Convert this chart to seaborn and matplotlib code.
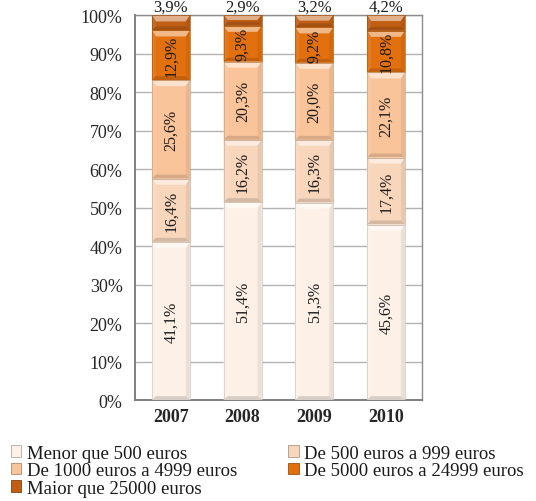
import matplotlib
matplotlib.use("Agg")
import numpy as np
import pandas as pd
import seaborn as sns
import matplotlib.pyplot as plt
from matplotlib.patches import Polygon, Rectangle
from matplotlib.colors import to_rgb
from matplotlib.font_manager import FontProperties

# ---- data -------------------------------------------------------------
years = ["2007", "2008", "2009", "2010"]
menor_500 = [41.1, 51.4, 51.3, 45.6]
de_500_999 = [16.4, 16.2, 16.3, 17.4]
de_1000_4999 = [25.6, 20.3, 20.0, 22.1]
de_5000_24999 = [12.9, 9.3, 9.2, 10.8]
maior_25000 = [3.9, 2.9, 3.2, 4.2]

series_names = [
    "Menor que 500 euros",
    "De 500 euros a 999 euros",
    "De 1000 euros a 4999 euros",
    "De 5000 euros a 24999 euros",
    "Maior que 25000 euros",
]
series_values = [menor_500, de_500_999, de_1000_4999, de_5000_24999, maior_25000]
series_colors = ["#FDF1E7", "#F8D6BC", "#FAC49A", "#E3700E", "#C05E14"]
y_ticks = [0, 10, 20, 30, 40, 50, 60, 70, 80, 90, 100]

# ---- style ------------------------------------------------------------
sns.set_theme(style="white")
serif = ["Liberation Serif", "DejaVu Serif"]
plt.rcParams["font.family"] = serif
plt.rcParams["text.color"] = "#1A1A1A"

fig = plt.figure(figsize=(5.36, 5.02), dpi=100)
ax = fig.add_axes([0.252, 0.201, 0.535, 0.767])

tops = np.cumsum(np.array(series_values), axis=0)
bottoms = tops - np.array(series_values)

# draw cumulative bars from the tallest layer down so each layer overlays
segments = {}
for i in range(len(series_names) - 1, -1, -1):
    df = pd.DataFrame({"year": years, "top": tops[i]})
    n_before = len(ax.patches)
    sns.barplot(data=df, x="year", y="top", color=series_colors[i],
                saturation=1, width=0.53, ax=ax, linewidth=0, zorder=2)
    segments[i] = ax.patches[n_before:]

ax.set_xlim(-0.5, 3.5)
ax.set_ylim(0, 100)


def mix(c, other, t):
    c = np.array(to_rgb(c))
    o = np.array(to_rgb(other))
    return tuple(c * (1 - t) + o * t)


# bevel edges on each stacked segment
fig.canvas.draw()
px_x = ax.transData.transform((1, 0))[0] - ax.transData.transform((0, 0))[0]
px_y = ax.transData.transform((0, 1))[1] - ax.transData.transform((0, 0))[1]
bevel_top_px = 6.0
bevel_side_px = 4.0
for i, patches in segments.items():
    col = series_colors[i]
    for j, p in enumerate(patches):
        x0 = p.get_x()
        x1 = x0 + p.get_width()
        y0 = bottoms[i][j]
        y1 = min(tops[i][j], 100)
        h_px = (y1 - y0) * px_y
        bt = min(bevel_top_px, h_px / 2.2)
        bs = min(bevel_side_px, h_px / 2.2)
        dx = bs / px_x
        dyt = bt / px_y
        dyb = bs / px_y
        top = [(x0, y1), (x1, y1), (x1 - dx, y1 - dyt), (x0 + dx, y1 - dyt)]
        bot = [(x0, y0), (x1, y0), (x1 - dx, y0 + dyb), (x0 + dx, y0 + dyb)]
        left = [(x0, y0), (x0 + dx, y0 + dyb), (x0 + dx, y1 - dyt), (x0, y1)]
        right = [(x1, y0), (x1 - dx, y0 + dyb), (x1 - dx, y1 - dyt), (x1, y1)]
        for poly, fc in ((top, mix(col, "white", 0.5)),
                         (left, mix(col, "white", 0.08)),
                         (right, mix(col, "black", 0.07)),
                         (bot, mix(col, "black", 0.14))):
            ax.add_patch(Polygon(poly, closed=True, facecolor=fc,
                                 edgecolor="none", zorder=3))
        ax.add_patch(Rectangle((x0, y0), x1 - x0, y1 - y0, facecolor="none",
                               edgecolor=mix(col, "black", 0.18), lw=0.5,
                               zorder=4))


def pct(v):
    return f"{v:.1f}".replace(".", ",") + "%"


# value labels
for i, vals in enumerate(series_values):
    for j, v in enumerate(vals):
        if i == len(series_values) - 1:
            ax.annotate(pct(v), (j, 100), xytext=(0, 0.3),
                        textcoords="offset points", ha="center", va="bottom",
                        fontsize=12, annotation_clip=False, zorder=6)
        else:
            ax.text(j, bottoms[i][j] + v / 2, pct(v), rotation=90,
                    ha="center", va="center", fontsize=11.5, zorder=6)

# axes
ax.set_yticks(y_ticks)
ax.set_yticklabels([f"{t}%" for t in y_ticks], fontsize=13)
ax.set_xticks([-0.5, 0.5, 1.5, 2.5, 3.5])
ax.set_xticklabels([])
ax.set_xticks(range(len(years)), minor=True)
ax.set_xticklabels(years, minor=True, fontsize=13, fontweight="bold")
ax.tick_params(axis="x", which="major", direction="out", length=5,
               color="#8C8C8C", width=1)
ax.tick_params(axis="x", which="minor", length=0, pad=6)
ax.tick_params(axis="y", direction="out", length=5, color="#8C8C8C",
               width=1, pad=4)
ax.set_xlabel("")
ax.set_ylabel("")
ax.yaxis.grid(True, color="#B3B3B3", lw=1)
ax.set_axisbelow(True)
for side in ("left", "bottom"):
    ax.spines[side].set_color("#7F7F7F")
    ax.spines[side].set_linewidth(1.4)
for side in ("top", "right"):
    ax.spines[side].set_color("#8C8C8C")
    ax.spines[side].set_linewidth(1.0)

# legend (row-wise reading order in two columns)
handles = [Rectangle((0, 0), 1, 1, facecolor=c, edgecolor=mix(c, "black", 0.3),
                     lw=0.6) for c in series_colors]
order = [0, 2, 4, 1, 3]
fig.legend([handles[k] for k in order], [series_names[k] for k in order],
           loc="upper left", bbox_to_anchor=(0.02, 0.112), ncol=2,
           frameon=False, prop=FontProperties(family=serif, size=13.5),
           handlelength=0.55, handleheight=0.55,
           handletextpad=0.3, labelspacing=0.02, columnspacing=2.75,
           borderaxespad=0, borderpad=0)

fig.savefig("out.png", dpi=100, facecolor="white")
